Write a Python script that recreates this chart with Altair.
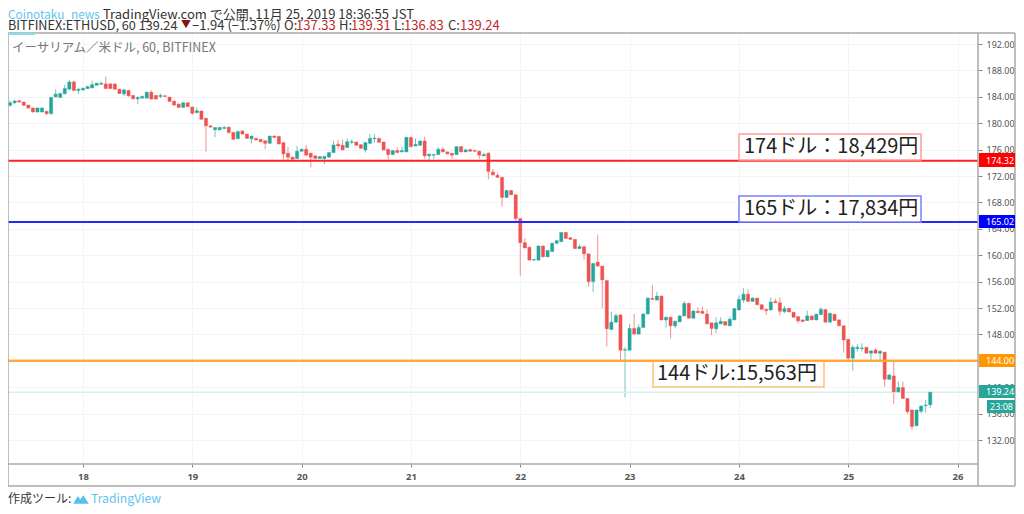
import altair as alt
import pandas as pd

FONT = "Noto Sans CJK JP"
UP, DOWN = "#26a69a", "#ef5350"

first_hour = -17
opens = [183.9,182.7,183.1,183.4,183.2,182.75,182.3,181.7,181.7,181.8,181.45,184.0,183.9,184.45,185.15,186.25,184.95,
 185.05,185.25,185.35,185.75,185.9,185.95,185.95,185.95,185.15,184.45,184.95,184.2,183.7,183.8,183.8,184.7,184.2,184.05,184.15,183.95,183.35,182.9,182.4,183.1,182.45,181.6,181.85,180.75,179.6,179.0,179.0,179.2,179.4,178.6,177.65,178.8,178.35,177.65,177.7,177.55,177.35,176.95,178.05,178.0,
 177.05,175.45,174.85,174.65,175.75,176.05,175.45,175.05,174.65,174.65,174.85,175.55,176.8,176.65,176.3,177.1,177.15,176.75,175.95,176.95,177.65,177.7,177.15,176.05,175.25,175.85,175.65,175.65,177.85,176.55,176.65,177.3,175.05,175.15,175.25,176.05,175.65,175.45,175.25,176.45,175.65,176.0,175.85,175.75,175.05,175.45,172.6,172.1,171.8,168.75,169.8,169.15,165.55,
 161.9,161.2,159.25,159.25,161.4,159.75,160.55,161.8,162.05,163.45,162.65,162.4,161.0,161.3,160.2,156.0,158.95,158.35,156.15,148.75,149.85,150.95,145.6,145.6,148.9,148.05,149.05,151.1,153.45,153.2,153.8,150.2,150.6,149.3,149.9,150.8,152.7,150.45,151.5,151.5,151.1,149.75,148.85,149.6,149.95,149.3,150.2,151.7,
 153.2,154.1,153.0,153.5,152.5,151.8,151.7,153.0,152.8,151.45,151.95,151.35,150.7,150.2,150.1,150.8,150.2,151.0,151.75,149.85,151.05,150.2,149.3,147.25,144.4,145.85,145.85,146.05,145.15,145.65,145.15,145.3,141.2,141.7,139.3,139.95,138.3,136.55,134.15,136.35,137.2,137.33]
closes = [182.75,183.1,183.35,183.2,182.7,182.3,181.7,182.3,182.3,181.45,183.9,184.4,184.5,185.25,186.25,184.95,185.15,
 185.3,185.55,185.85,186.05,186.05,185.25,185.25,185.15,184.5,185.05,184.15,183.7,183.9,184.05,184.7,183.65,183.65,184.2,184.05,183.3,182.75,182.4,183.1,182.5,181.5,181.9,180.6,179.6,179.4,179.35,179.35,179.35,178.6,177.55,178.75,178.35,177.7,178.05,177.45,177.2,176.95,178.05,177.85,176.85,
 175.35,174.85,174.55,175.75,176.05,175.15,174.85,174.65,174.95,174.95,175.55,176.7,176.55,175.95,177.2,177.2,176.65,176.2,177.05,177.7,177.75,177.1,175.95,175.25,175.85,175.55,175.85,177.85,176.45,176.8,177.3,175.05,175.3,175.25,176.05,175.65,175.35,175.15,176.45,175.65,175.95,175.75,175.75,175.15,175.25,172.7,172.15,171.8,168.75,169.8,169.15,165.55,161.9,
 161.1,159.25,159.35,161.4,159.75,160.7,161.8,162.2,163.45,162.55,162.4,161.0,161.3,160.2,156.0,158.75,158.35,156.25,148.85,149.85,150.85,145.6,145.7,148.9,148.05,149.05,151.1,153.5,153.3,153.8,150.2,150.6,149.3,150.0,150.8,152.7,150.45,151.55,151.3,151.2,149.6,148.9,149.75,150.0,149.4,150.3,151.9,153.3,
 154.1,153.0,153.5,152.5,151.8,151.6,152.9,152.8,151.5,151.9,151.4,150.6,150.05,149.95,150.8,150.2,151.05,151.8,149.85,151.2,150.1,149.3,147.15,144.4,146.05,146.05,145.95,145.15,145.5,145.15,145.45,141.2,141.85,139.3,139.95,138.3,136.3,134.05,136.55,137.15,137.3,139.24]
highs = [184.3,183.4,183.6,183.5,183.3,182.8,182.4,182.4,182.4,181.9,184.0,185.15,184.6,185.8,186.55,186.5,185.3,
 185.4,185.65,186.45,186.15,186.3,187.05,186.1,186.05,185.2,185.2,185.1,184.3,184.1,184.2,184.8,185.0,184.3,184.5,184.3,184.0,183.4,183.0,183.2,183.15,182.5,182.4,181.9,180.8,179.7,179.4,179.45,179.6,179.5,178.7,178.85,178.95,178.4,178.15,177.8,177.6,177.4,178.1,178.15,178.05,
 177.1,176.45,174.95,176.55,176.15,176.7,175.55,175.15,175.05,175.05,175.65,177.35,177.45,177.55,177.7,177.55,177.2,176.8,177.15,178.35,178.35,177.8,177.2,176.1,175.95,176.35,176.45,177.95,177.95,177.7,177.4,177.95,175.4,175.35,176.35,176.35,175.7,175.5,176.5,176.55,176.15,176.1,176.0,175.85,175.55,175.6,173.1,172.5,171.9,169.9,169.9,169.2,165.6,
 162.6,161.3,159.45,161.5,161.5,160.8,161.9,162.3,163.5,163.55,162.7,162.45,161.6,161.35,160.25,158.8,163.1,158.4,156.2,151.45,151.2,151.05,146.1,149.6,151.1,149.55,151.2,153.6,155.5,154.45,153.9,150.7,150.7,150.1,150.9,153.05,152.85,151.65,152.1,152.2,151.8,149.8,150.6,150.6,150.0,150.7,152.0,153.9,
 155.0,154.85,153.6,153.55,152.55,151.9,153.6,153.45,153.6,152.3,152.0,151.4,150.75,150.25,151.6,150.85,151.15,152.1,151.9,151.3,151.1,150.25,149.35,147.3,146.4,146.55,146.65,146.1,145.6,145.9,145.6,145.35,142.0,143.85,140.85,140.85,138.35,136.6,136.6,137.25,138.05,139.31]
lows = [182.6,182.5,182.9,183.1,182.6,182.2,181.6,181.6,181.6,181.2,181.25,183.9,183.8,184.4,185.1,184.9,184.4,
 184.9,185.2,185.3,185.7,185.8,185.2,185.2,185.1,184.4,184.1,184.0,183.6,182.9,183.7,183.7,183.6,183.6,183.8,184.0,183.25,182.6,182.3,182.3,182.45,181.25,181.5,180.5,175.7,179.35,177.9,178.9,179.1,178.4,177.5,177.6,178.3,177.6,176.95,177.4,177.1,176.1,176.9,177.8,176.8,
 174.5,174.4,174.45,174.6,175.7,175.1,173.3,174.6,174.6,173.8,174.75,175.5,176.05,175.9,176.25,176.85,176.6,176.1,175.55,176.9,177.05,177.05,175.9,174.5,175.2,175.5,175.6,175.6,176.35,176.5,176.6,174.65,174.1,174.55,175.2,175.6,175.3,174.6,175.2,175.6,175.6,175.7,175.7,174.6,175.0,171.5,172.1,171.7,167.35,168.7,169.1,164.85,156.9,
 161.05,159.2,159.2,159.2,159.7,159.7,160.5,161.75,162.0,162.5,162.3,160.95,160.95,159.35,155.2,154.45,158.3,151.95,146.15,148.7,149.8,144.1,138.45,145.55,148.0,148.0,149.0,151.05,153.25,153.15,150.15,149.05,147.4,148.9,149.85,150.75,150.4,150.4,151.25,151.15,149.55,147.9,148.15,149.55,149.35,149.25,150.15,151.65,
 152.8,152.95,152.95,152.45,151.75,150.95,151.65,152.75,150.9,151.2,151.35,150.5,149.7,149.9,150.05,150.15,150.15,150.95,149.8,149.8,150.05,149.25,145.25,144.0,142.5,145.4,145.4,145.1,144.0,145.1,144.1,140.1,141.15,137.45,139.25,138.25,135.95,133.5,134.1,136.05,136.15,136.83]

price_ticks = list(range(132, 196, 4))
hour_ticks = [24 * d for d in range(0, 9)]
level_prices = [174.32, 165.02, 144.0]
level_colors = ["#ff2222", "#2626ff", "#ffa733"]
last_price = 139.24

n = min(len(opens), len(closes), len(highs), len(lows))
df = pd.DataFrame({
    "h": [first_hour + i for i in range(n)],
    "o": opens[:n], "c": closes[:n], "hi": highs[:n], "lo": lows[:n],
})
df["dir"] = ["up" if c >= o else "down" for o, c in zip(df.o, df.c)]

OX, OY = 8, 33   # page position of the plot's corner
RIGHT = 1015
xs = alt.Scale(domain=[-16.465, 196.49], nice=False, zero=False, padding=0)
ys = alt.Scale(domain=[128.364, 193.667], nice=False, zero=False)
cs = alt.Scale(domain=["up", "down"], range=[UP, DOWN])
yaxis = alt.Axis(
    orient="right", values=price_ticks, format=".2f", grid=True, gridColor="#f1f4f9",
    domain=False, tickColor="#888888", tickSize=4, labelFontSize=9, labelColor="#555555",
    labelFont="Noto Sans", labelPadding=4, labelOverlap=False, labelBound=False, title=None)

def T(text, x, y, size, color="#333333", weight="normal", align="left", font=FONT):
    return alt.Chart(pd.DataFrame({"t": [text]})).mark_text(
        align=align, baseline="middle", fontSize=size, color=color, font=font, fontWeight=weight
    ).encode(x=alt.value(x - OX), y=alt.value(y - OY), text="t:N")

def R(x1, x2, y1, y2, fill, stroke=None, sw=0):
    kw = dict(fill=fill)
    if stroke:
        kw.update(stroke=stroke, strokeWidth=sw)
    return alt.Chart(pd.DataFrame({"a": [0]})).mark_rect(**kw).encode(
        x=alt.value(x1 - OX), x2=alt.value(x2 - OX), y=alt.value(y1 - OY), y2=alt.value(y2 - OY))

def L(x1, x2, y1, y2, color="#a8a8a8", sw=1.5):
    return alt.Chart(pd.DataFrame({"a": [0]})).mark_rule(color=color, strokeWidth=sw).encode(
        x=alt.value(x1 - OX), x2=alt.value(x2 - OX), y=alt.value(y1 - OY), y2=alt.value(y2 - OY))

def H(p, color, sw):
    return alt.Chart(pd.DataFrame({"p": [p]})).mark_rule(color=color, strokeWidth=sw).encode(
        y=alt.Y("p:Q", scale=ys, axis=yaxis))

base = alt.Chart(df)
wicks = base.mark_rule(strokeWidth=1, opacity=0.65).encode(
    x=alt.X("h:Q", scale=xs, title=None, axis=alt.Axis(
        values=hour_ticks, labelExpr="datum.value/24+18", grid=True, gridColor="#f1f4f9",
        domain=False, tickColor="#888888", tickSize=3, labelFontSize=9.5, labelFontWeight="bold",
        labelColor="#555555", labelFont="Noto Sans", labelPadding=4)),
    y=alt.Y("hi:Q", scale=ys, axis=yaxis),
    y2="lo:Q",
    color=alt.Color("dir:N", scale=cs, legend=None),
)
bodies = base.mark_bar(size=3.2, orient="vertical", strokeWidth=0.4).encode(
    x=alt.X("h:Q", scale=xs),
    y=alt.Y("o:Q", scale=ys, axis=yaxis),
    y2="c:Q",
    color=alt.Color("dir:N", scale=cs, legend=None),
    stroke=alt.Color("dir:N", scale=cs, legend=None),
)

logo = alt.Chart(pd.DataFrame({"a": [0]})).mark_point(
    shape="M-1,0.55 L-0.4,-0.45 L-0.1,0 L0.3,-0.55 L1,0.55 Z", filled=True, size=240,
    color="#5bbfec", opacity=1).encode(x=alt.value(81 - OX), y=alt.value(499.5 - OY))

TAG = "Noto Sans"
layers = [
    wicks, H(last_price, "#d6efec", 1.5), bodies,
    *[H(p, c, 2) for p, c in zip(level_prices, level_colors)],
    R(739, 921, 134, 160, "white", "#ff9c9c", 1.5),
    T("174ドル：18,429円", 744, 147, 20, "#222222"),
    R(739, 921, 196, 222, "white", "#7d7dff", 1.5),
    T("165ドル：17,834円", 744, 209, 20, "#222222"),
    R(653, 824, 361, 387, "white", "#ffc078", 1.5),
    T("144ドル:15,563円", 657, 374, 20, "#222222"),
    H(level_prices[2], level_colors[2], 2),
    # frame
    L(8, RIGHT, 486, 486), L(978, 978, 33, 486), L(RIGHT, RIGHT, 33, 486),
    L(8, 8, 33, 486), L(8, RIGHT, 33, 33), L(8, 978, 464, 464),
    R(8, 35, 33, 35, "#7fe0f2"),
    # price tags
    R(979, RIGHT, 153, 167, "#ff0000"), T("174.32", 986, 160.5, 9, "white", font=TAG),
    R(979, RIGHT, 215, 228, "#0000ff"), T("165.02", 986, 221.5, 9, "white", font=TAG),
    R(979, RIGHT, 354, 367, "#ff9800"), T("144.00", 986, 360.5, 9, "white", font=TAG),
    R(979, RIGHT, 385, 398, UP), T("139.24", 986, 391.5, 9, "white", font=TAG),
    R(987, RIGHT, 400, 413, UP), T("23:08", 990, 406.5, 9, "white", font=TAG),
    # header
    T("イーサリアム／米ドル, 60, BITFINEX", 12, 47.5, 12.5, "#777777"),
    T("Coinotaku_news", 8, 15, 11.8, "#64c4ef"),
    T("TradingView.com で公開, 11月 25, 2019 18:36:55 JST", 103, 15, 13, "#333333"),
    T("BITFINEX:ETHUSD, 60 139.24", 8, 26, 12.7, "#333333"),
    T("▼", 181, 25, 10, "#8b1010"),
    T("−1.94 (−1.37%)", 192, 26, 13, "#333333"),
    T("O:", 284, 26, 13, "#333333"), T("137.33", 296, 26, 13, "#c0282d"),
    T("H:", 339, 26, 13, "#333333"), T("139.31", 351, 26, 13, "#c0282d"),
    T("L:", 394, 26, 13, "#333333"), T("136.83", 404, 26, 13, "#c0282d"),
    T("C:", 448, 26, 13, "#333333"), T("139.24", 460, 26, 13, "#c0282d"),
    # footer
    T("作成ツール:", 8, 499, 12, "#333333"),
    logo,
    T("TradingView", 91, 499, 12.2, "#64c4ef"),
]

chart = alt.layer(*layers).resolve_scale(color="independent").properties(
    width=970, height=431,
    padding={"left": 0, "top": 25, "right": 38, "bottom": 42},
    autosize=alt.AutoSizeParams(type="none"),
    background="white",
).configure_view(stroke=None).configure_axis(labelOverlap=False, labelBound=False)

chart.save("out.html", embed_options={"renderer": "svg", "actions": False})
